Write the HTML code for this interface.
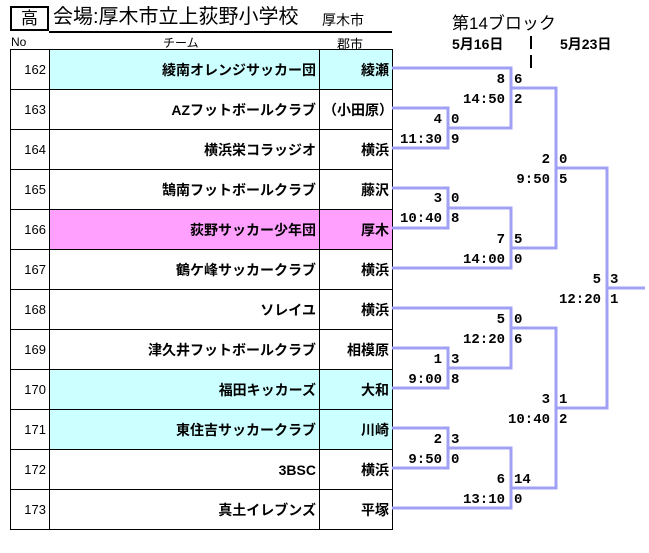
<!DOCTYPE html>
<html><head><meta charset="utf-8"><style>
body{margin:0;width:649px;height:553px;background:#fff;position:relative;overflow:hidden;font-family:"Liberation Sans","Noto Sans CJK JP",sans-serif;}
.a{position:absolute;white-space:nowrap;}
table{position:absolute;left:10px;top:49px;border-collapse:collapse;}
td{border:1.5px solid #000;height:39px;padding:0 3px;text-align:right;font-size:14px;font-weight:bold;box-sizing:border-box;}
tr{height:40px;}
td.n{width:39px;font-weight:normal;font-size:13px;}
td.t{width:270px;}
td.c{width:73px;}
.cy{background:#ccffff}.pk{background:#ffa0ff}
.s{position:absolute;font-family:"Liberation Mono",monospace;font-weight:bold;font-size:14px;line-height:16px;}
.l{text-align:right;width:60px;}
</style></head><body>
<div class="a" style="left:10px;top:6px;width:35px;height:21px;border:2px solid #000;font-size:17px;text-align:center;line-height:21px;">高</div>
<div class="a" style="left:53px;top:5px;font-size:20px;line-height:24px;">会場:厚木市立上荻野小学校</div>
<div class="a" style="left:322px;top:10px;font-size:14px;">厚木市</div>
<div class="a" style="left:49px;top:31px;width:343px;height:1.5px;background:#000"></div>
<div class="a" style="left:11px;top:35px;font-size:12px;">No</div>
<div class="a" style="left:163px;top:34px;font-size:12px;">チーム</div>
<div class="a" style="left:337px;top:34px;font-size:13px;">郡市</div>
<div class="a" style="left:452px;top:9px;font-size:17px;">第14ブロック</div>
<div class="a" style="left:452px;top:34px;font-size:14px;font-weight:bold;">5月16日</div>
<div class="a" style="left:560px;top:34px;font-size:14px;font-weight:bold;">5月23日</div>
<div class="a" style="left:530px;top:36px;width:2px;height:13px;background:#000"></div>
<div class="a" style="left:530px;top:55px;width:2px;height:13px;background:#000"></div>
<table>
<tr><td class="n">162</td><td class="t cy">綾南オレンジサッカー団</td><td class="c cy">綾瀬</td></tr>
<tr><td class="n">163</td><td class="t">AZフットボールクラブ</td><td class="c">（小田原）</td></tr>
<tr><td class="n">164</td><td class="t">横浜栄コラッジオ</td><td class="c">横浜</td></tr>
<tr><td class="n">165</td><td class="t">鵠南フットボールクラブ</td><td class="c">藤沢</td></tr>
<tr><td class="n">166</td><td class="t pk">荻野サッカー少年団</td><td class="c pk">厚木</td></tr>
<tr><td class="n">167</td><td class="t">鶴ケ峰サッカークラブ</td><td class="c">横浜</td></tr>
<tr><td class="n">168</td><td class="t">ソレイユ</td><td class="c">横浜</td></tr>
<tr><td class="n">169</td><td class="t">津久井フットボールクラブ</td><td class="c">相模原</td></tr>
<tr><td class="n">170</td><td class="t cy">福田キッカーズ</td><td class="c cy">大和</td></tr>
<tr><td class="n">171</td><td class="t cy">東住吉サッカークラブ</td><td class="c cy">川崎</td></tr>
<tr><td class="n">172</td><td class="t">3BSC</td><td class="c">横浜</td></tr>
<tr><td class="n">173</td><td class="t">真土イレブンズ</td><td class="c">平塚</td></tr>
</table>
<svg class="a" style="left:0;top:0" width="649" height="553"><g fill="none" stroke="#a0a0f4" stroke-width="3">
<polyline points="392,68 511,68 511,128 448,128"/>
<polyline points="392,108 448,108 448,148 392,148"/>
<polyline points="511,88 556,88 556,248 511,248"/>
<polyline points="392,188 448,188 448,228 392,228"/>
<polyline points="448,208 511,208 511,268 392,268"/>
<polyline points="556,168 607,168 607,408 556,408"/>
<polyline points="607,288 645,288"/>
<polyline points="392,308 511,308 511,368 448,368"/>
<polyline points="392,348 448,348 448,388 392,388"/>
<polyline points="511,328 556,328 556,488 511,488"/>
<polyline points="392,428 448,428 448,468 392,468"/>
<polyline points="448,448 511,448 511,508 392,508"/>
</g></svg>
<div class="s l" style="left:445px;top:72px">8</div><div class="s" style="left:514px;top:72px">6</div>
<div class="s l" style="left:445px;top:92px">14:50</div><div class="s" style="left:514px;top:92px">2</div>
<div class="s l" style="left:382px;top:112px">4</div><div class="s" style="left:451px;top:112px">0</div>
<div class="s l" style="left:382px;top:132px">11:30</div><div class="s" style="left:451px;top:132px">9</div>
<div class="s l" style="left:490px;top:152px">2</div><div class="s" style="left:559px;top:152px">0</div>
<div class="s l" style="left:490px;top:172px">9:50</div><div class="s" style="left:559px;top:172px">5</div>
<div class="s l" style="left:382px;top:191px">3</div><div class="s" style="left:451px;top:191px">0</div>
<div class="s l" style="left:382px;top:211px">10:40</div><div class="s" style="left:451px;top:211px">8</div>
<div class="s l" style="left:445px;top:232px">7</div><div class="s" style="left:514px;top:232px">5</div>
<div class="s l" style="left:445px;top:252px">14:00</div><div class="s" style="left:514px;top:252px">0</div>
<div class="s l" style="left:541px;top:272px">5</div><div class="s" style="left:610px;top:272px">3</div>
<div class="s l" style="left:541px;top:292px">12:20</div><div class="s" style="left:610px;top:292px">1</div>
<div class="s l" style="left:445px;top:312px">5</div><div class="s" style="left:514px;top:312px">0</div>
<div class="s l" style="left:445px;top:332px">12:20</div><div class="s" style="left:514px;top:332px">6</div>
<div class="s l" style="left:382px;top:352px">1</div><div class="s" style="left:451px;top:352px">3</div>
<div class="s l" style="left:382px;top:372px">9:00</div><div class="s" style="left:451px;top:372px">8</div>
<div class="s l" style="left:490px;top:392px">3</div><div class="s" style="left:559px;top:392px">1</div>
<div class="s l" style="left:490px;top:412px">10:40</div><div class="s" style="left:559px;top:412px">2</div>
<div class="s l" style="left:382px;top:432px">2</div><div class="s" style="left:451px;top:432px">3</div>
<div class="s l" style="left:382px;top:452px">9:50</div><div class="s" style="left:451px;top:452px">0</div>
<div class="s l" style="left:445px;top:472px">6</div><div class="s" style="left:514px;top:472px">14</div>
<div class="s l" style="left:445px;top:492px">13:10</div><div class="s" style="left:514px;top:492px">0</div>
</body></html>
